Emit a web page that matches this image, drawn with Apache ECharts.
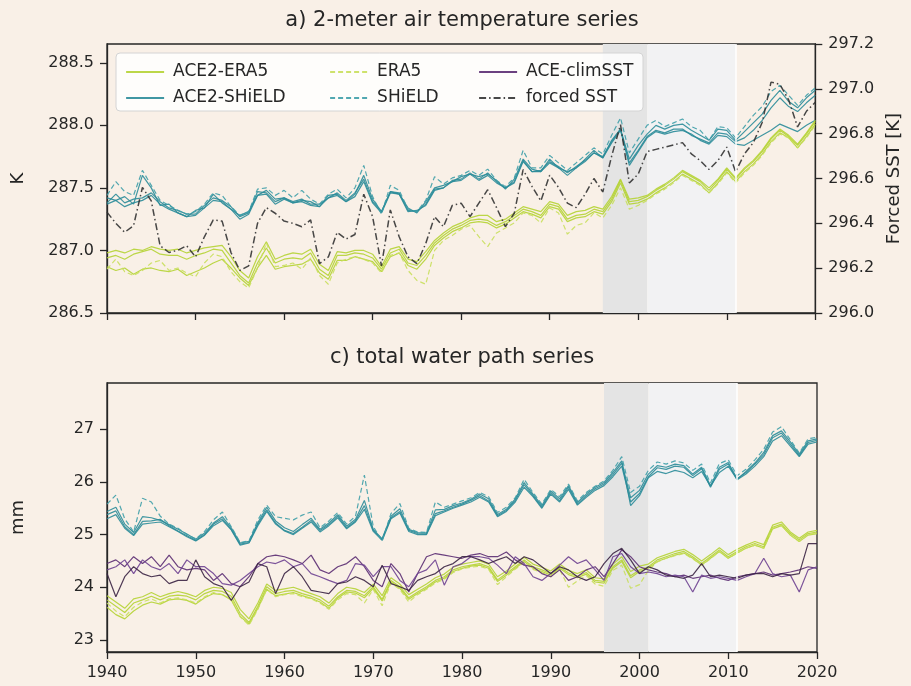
<!DOCTYPE html>
<html>
<head>
<meta charset="utf-8">
<title>ACE2 series</title>
<script src="https://cdn.jsdelivr.net/npm/echarts@6/dist/echarts.min.js"></script>
<style>
  html, body { margin: 0; padding: 0; background: #f9f0e7; }
  #main { width: 911px; height: 686px; }
</style>
</head>
<body>
<div id="main"></div>
<script>
// years 1940..2020 (x positions)
const years = [];
for (let y = 1940; y <= 2020; y++) years.push(y);

// a) 2-meter air temperature [K]
const forcedSST = [
  296.45,296.40,296.36,296.39,296.56,296.50,296.30,296.27,296.28,296.30,
  296.25,296.34,296.415,296.41,296.27,296.19,296.21,296.40,296.47,296.445,
  296.41,296.40,296.385,296.415,296.22,296.25,296.36,296.33,296.35,296.53,
  296.43,296.21,296.46,296.34,296.25,296.22,296.31,296.43,296.385,296.48,
  296.49,296.43,296.49,296.55,296.47,296.385,296.445,296.64,296.565,296.50,
  296.615,296.56,296.49,296.47,296.53,296.60,296.54,296.70,296.84,296.58,
  296.62,296.72,296.73,296.74,296.75,296.76,296.71,296.68,296.64,296.68,
  296.74,296.63,296.71,296.76,296.85,297.03,297.02,296.95,296.83,296.90,
  296.94];
const t2mShield = [
  287.44,287.55,287.47,287.44,287.64,287.52,287.40,287.36,287.32,287.29,
  287.31,287.37,287.46,287.44,287.35,287.28,287.31,287.49,287.50,287.44,
  287.48,287.42,287.48,287.41,287.37,287.45,287.49,287.42,287.50,287.68,
  287.43,287.29,287.52,287.48,287.33,287.31,287.40,287.59,287.53,287.58,
  287.60,287.64,287.60,287.65,287.56,287.51,287.58,287.80,287.66,287.66,
  287.76,287.70,287.64,287.70,287.76,287.82,287.77,287.92,288.06,287.78,
  287.89,288.00,288.04,287.99,288.02,288.05,287.99,287.96,287.88,287.99,
  287.98,287.90,287.99,288.08,288.15,288.27,288.32,288.24,288.16,288.24,
  288.30];
const t2mAceShield1 = [
  287.42,287.40,287.43,287.37,287.60,287.50,287.36,287.37,287.30,287.27,
  287.32,287.34,287.45,287.38,287.33,287.28,287.31,287.44,287.48,287.41,
  287.42,287.38,287.40,287.39,287.35,287.44,287.45,287.39,287.45,287.60,
  287.41,287.31,287.47,287.45,287.34,287.30,287.39,287.50,287.52,287.55,
  287.59,287.61,287.59,287.61,287.56,287.49,287.57,287.73,287.65,287.63,
  287.73,287.66,287.63,287.66,287.73,287.80,287.74,287.88,287.97,287.73,
  287.84,287.93,288.00,287.97,288.00,288.01,287.96,287.92,287.88,287.97,
  287.96,287.88,287.95,288.02,288.09,288.20,288.28,288.19,288.14,288.22,
  288.28];
const t2mAceShield2 = [
  287.37,287.40,287.35,287.38,287.40,287.44,287.37,287.33,287.30,287.27,
  287.28,287.34,287.40,287.39,287.33,287.25,287.29,287.44,287.45,287.37,
  287.41,287.38,287.39,287.36,287.35,287.42,287.44,287.39,287.43,287.55,
  287.38,287.30,287.46,287.45,287.31,287.32,287.36,287.48,287.50,287.55,
  287.56,287.61,287.56,287.60,287.54,287.50,287.54,287.71,287.63,287.63,
  287.70,287.66,287.60,287.66,287.71,287.78,287.74,287.86,287.96,287.70,
  287.80,287.91,287.96,287.94,287.97,287.97,287.92,287.89,287.86,287.94,
  287.93,287.87,287.90,287.96,288.04,288.14,288.22,288.15,288.11,288.18,
  288.24];
const t2mAceShield3 = [
  287.38,287.45,287.38,287.41,287.42,287.46,287.39,287.34,287.32,287.29,
  287.29,287.36,287.42,287.40,287.35,287.27,287.30,287.47,287.46,287.39,
  287.42,287.39,287.41,287.37,287.37,287.42,287.46,287.40,287.46,287.57,
  287.39,287.31,287.47,287.46,287.32,287.31,287.37,287.49,287.50,287.56,
  287.57,287.62,287.57,287.62,287.55,287.50,287.55,287.72,287.63,287.64,
  287.71,287.67,287.62,287.67,287.72,287.78,287.75,287.87,287.97,287.68,
  287.79,287.90,287.95,287.93,287.95,287.96,287.93,287.88,287.85,287.92,
  287.91,287.85,287.84,287.88,287.92,287.96,288.01,287.98,287.95,288.00,
  288.04];
const t2mEra5 = [
  286.85,286.93,286.83,286.80,286.84,286.90,286.92,286.84,286.86,286.82,
  286.79,286.90,286.97,286.95,286.83,286.75,286.70,286.86,287.06,286.87,
  286.88,286.90,286.85,286.94,286.80,286.73,286.90,286.93,286.95,286.93,
  286.90,286.82,286.96,286.98,286.84,286.76,286.73,287.00,287.08,287.12,
  287.17,287.20,287.11,287.03,287.14,287.18,287.22,287.30,287.28,287.22,
  287.34,287.30,287.13,287.20,287.22,287.30,287.26,287.36,287.50,287.33,
  287.36,287.40,287.45,287.49,287.54,287.60,287.56,287.52,287.46,287.53,
  287.62,287.54,287.62,287.68,287.76,287.86,287.93,287.90,287.82,287.90,
  288.00];
const t2mAceEra1 = [
  286.98,287.00,286.98,287.01,287.00,287.03,287.01,287.00,287.01,286.98,
  287.00,287.02,287.03,287.04,286.95,286.84,286.78,286.95,287.07,286.93,
  286.96,286.98,286.97,287.01,286.89,286.84,286.99,286.98,287.00,287.00,
  286.97,286.87,287.01,287.03,286.93,286.91,286.99,287.08,287.14,287.19,
  287.22,287.26,287.28,287.28,287.23,287.25,287.30,287.35,287.33,287.31,
  287.39,287.37,287.28,287.31,287.32,287.35,287.33,287.43,287.57,287.41,
  287.42,287.44,287.49,287.53,287.58,287.64,287.60,287.56,287.50,287.57,
  287.66,287.58,287.66,287.72,287.80,287.90,287.97,287.92,287.85,287.94,
  288.04];
const t2mAceEra2 = [
  286.94,286.96,286.93,286.97,286.99,287.01,286.97,286.96,286.96,286.93,
  286.96,286.98,287.01,287.00,286.90,286.80,286.74,286.90,287.02,286.90,
  286.93,286.94,286.93,286.98,286.85,286.80,286.96,286.96,286.98,286.97,
  286.94,286.85,286.98,287.01,286.90,286.88,286.96,287.06,287.12,287.17,
  287.20,287.24,287.25,287.24,287.20,287.23,287.28,287.33,287.31,287.28,
  287.37,287.35,287.25,287.28,287.29,287.33,287.31,287.41,287.56,287.39,
  287.40,287.43,287.48,287.52,287.57,287.63,287.59,287.55,287.48,287.56,
  287.65,287.57,287.65,287.71,287.79,287.89,287.96,287.91,287.84,287.93,
  288.03];
const t2mAceEra3 = [
  286.87,286.84,286.86,286.81,286.85,286.86,286.84,286.83,286.85,286.80,
  286.83,286.86,286.90,286.93,286.86,286.78,286.72,286.86,286.96,286.85,
  286.87,286.88,286.89,286.93,286.82,286.77,286.92,286.92,286.95,286.93,
  286.91,286.83,286.95,286.98,286.88,286.85,286.93,287.04,287.10,287.15,
  287.18,287.22,287.23,287.22,287.18,287.21,287.26,287.31,287.29,287.26,
  287.35,287.33,287.23,287.26,287.27,287.31,287.29,287.39,287.54,287.37,
  287.38,287.41,287.46,287.50,287.55,287.61,287.57,287.53,287.46,287.54,
  287.63,287.55,287.63,287.69,287.77,287.87,287.94,287.90,287.82,287.91,
  288.01];

// c) total water path [mm]
const twpShield = [
  25.58,25.75,25.30,25.05,25.69,25.62,25.35,25.20,25.12,25.00,
  24.92,25.06,25.28,25.43,25.15,24.85,24.88,25.28,25.56,25.34,
  25.31,25.28,25.37,25.43,25.13,25.26,25.42,25.20,25.35,26.13,
  25.15,24.88,25.40,25.59,25.12,25.05,25.04,25.62,25.52,25.58,
  25.64,25.70,25.80,25.72,25.42,25.52,25.70,26.05,25.80,25.58,
  25.86,25.72,25.96,25.64,25.80,25.92,26.02,26.22,26.48,25.80,
  25.92,26.22,26.38,26.34,26.40,26.36,26.22,26.34,25.98,26.35,
  26.42,26.12,26.24,26.42,26.62,26.95,27.05,26.80,26.55,26.82,
  26.85];
const twpAceShield1 = [
  25.38,25.45,25.15,25.00,25.25,25.26,25.29,25.17,25.07,24.98,
  24.89,25.00,25.20,25.30,25.10,24.82,24.85,25.20,25.47,25.22,
  25.08,25.02,25.14,25.27,25.08,25.19,25.35,25.13,25.26,25.55,
  25.08,24.91,25.32,25.44,25.08,25.02,25.01,25.40,25.45,25.52,
  25.58,25.65,25.74,25.64,25.36,25.46,25.65,25.95,25.74,25.52,
  25.80,25.64,25.90,25.58,25.74,25.87,25.96,26.14,26.36,25.70,
  25.84,26.15,26.31,26.28,26.34,26.31,26.15,26.28,25.93,26.28,
  26.37,26.06,26.18,26.34,26.52,26.84,26.93,26.72,26.50,26.75,
  26.79];
const twpAceShield2 = [
  25.30,25.38,25.12,24.98,25.20,25.22,25.24,25.15,25.06,24.96,
  24.88,24.99,25.17,25.27,25.09,24.80,24.84,25.17,25.44,25.20,
  25.07,25.00,25.12,25.24,25.05,25.17,25.32,25.11,25.24,25.48,
  25.06,24.89,25.30,25.41,25.06,25.00,25.00,25.36,25.43,25.50,
  25.56,25.62,25.71,25.62,25.34,25.44,25.62,25.90,25.72,25.50,
  25.77,25.62,25.86,25.56,25.71,25.84,25.93,26.10,26.30,25.62,
  25.78,26.10,26.27,26.24,26.30,26.28,26.12,26.25,25.90,26.24,
  26.34,26.04,26.15,26.30,26.48,26.78,26.88,26.68,26.48,26.72,
  26.76];
const twpAceShield3 = [
  25.44,25.52,25.20,25.04,25.34,25.32,25.27,25.19,25.10,25.01,
  24.91,25.03,25.22,25.34,25.13,24.84,24.87,25.23,25.52,25.26,
  25.13,25.06,25.19,25.31,25.10,25.22,25.38,25.16,25.29,25.65,
  25.10,24.92,25.35,25.49,25.10,25.04,25.03,25.47,25.48,25.55,
  25.60,25.67,25.77,25.68,25.38,25.48,25.68,25.99,25.77,25.55,
  25.83,25.68,25.93,25.61,25.77,25.90,25.99,26.18,26.40,25.55,
  25.74,26.08,26.20,26.16,26.22,26.18,26.08,26.20,25.92,26.18,
  26.30,26.05,26.20,26.36,26.56,26.88,26.97,26.76,26.53,26.78,
  26.82];
const twpEra5 = [
  23.70,23.55,23.44,23.62,23.72,23.78,23.70,23.78,23.80,23.76,
  23.70,23.82,23.90,23.86,23.78,23.44,23.28,23.58,23.96,23.82,
  23.86,23.88,23.82,23.78,23.70,23.58,23.76,23.88,23.86,23.70,
  23.96,23.65,24.08,23.96,23.72,23.86,23.96,24.08,24.15,24.28,
  24.35,24.38,24.40,24.34,24.05,24.20,24.34,24.48,24.34,24.28,
  24.20,24.34,24.00,24.12,24.22,24.06,24.02,24.32,24.42,23.98,
  24.05,24.32,24.48,24.55,24.60,24.64,24.54,24.42,24.54,24.68,
  24.55,24.65,24.74,24.80,24.74,25.12,25.18,24.99,24.87,25.00,
  25.03];
const twpAceEra1 = [
  23.84,23.72,23.60,23.78,23.82,23.90,23.82,23.88,23.92,23.88,
  23.82,23.94,24.00,23.98,23.90,23.58,23.40,23.70,24.06,23.94,
  23.97,24.00,23.94,23.88,23.82,23.70,23.88,24.00,23.97,23.90,
  24.06,23.84,24.18,24.06,23.86,23.96,24.06,24.18,24.25,24.38,
  24.44,24.47,24.50,24.44,24.20,24.31,24.44,24.57,24.44,24.38,
  24.31,24.44,24.32,24.26,24.33,24.18,24.16,24.44,24.58,24.30,
  24.40,24.44,24.56,24.62,24.68,24.72,24.62,24.50,24.62,24.75,
  24.62,24.72,24.80,24.87,24.81,25.18,25.24,25.05,24.93,25.05,
  25.08];
const twpAceEra2 = [
  23.76,23.64,23.52,23.70,23.76,23.83,23.76,23.83,23.85,23.83,
  23.76,23.88,23.94,23.92,23.83,23.50,23.33,23.64,24.01,23.88,
  23.92,23.94,23.88,23.83,23.76,23.64,23.82,23.94,23.92,23.84,
  24.01,23.77,24.13,24.01,23.80,23.91,24.01,24.13,24.20,24.33,
  24.39,24.42,24.45,24.39,24.14,24.26,24.39,24.52,24.39,24.33,
  24.26,24.39,24.27,24.21,24.28,24.13,24.11,24.39,24.52,24.22,
  24.33,24.39,24.52,24.58,24.64,24.68,24.58,24.45,24.58,24.71,
  24.58,24.68,24.77,24.83,24.77,25.14,25.20,25.02,24.90,25.02,
  25.05];
const twpAceEra3 = [
  23.62,23.48,23.40,23.55,23.66,23.72,23.68,23.76,23.78,23.75,
  23.68,23.80,23.88,23.86,23.76,23.45,23.30,23.60,23.96,23.84,
  23.87,23.90,23.84,23.79,23.72,23.60,23.79,23.91,23.89,23.80,
  23.98,23.74,24.10,23.98,23.77,23.88,23.98,24.10,24.17,24.30,
  24.36,24.40,24.42,24.36,24.11,24.23,24.36,24.49,24.36,24.30,
  24.23,24.36,24.24,24.18,24.25,24.10,24.08,24.36,24.49,24.18,
  24.30,24.36,24.49,24.55,24.61,24.65,24.55,24.42,24.55,24.68,
  24.55,24.65,24.74,24.80,24.74,25.11,25.17,24.99,24.87,24.99,
  25.02];
const twpClim1 = [
  24.45,24.52,24.39,24.58,24.45,24.58,24.39,24.61,24.39,24.33,
  24.36,24.33,24.13,24.26,24.07,24.01,24.20,24.45,24.58,24.61,
  24.58,24.52,24.45,24.61,24.33,24.26,24.39,24.45,24.58,24.39,
  24.13,24.01,24.45,24.26,23.91,24.26,24.58,24.64,24.61,24.58,
  24.55,24.61,24.64,24.58,24.58,24.67,24.52,24.42,24.39,24.26,
  24.20,24.33,24.13,24.20,24.33,24.39,24.20,24.45,24.71,24.58,
  24.39,24.33,24.29,24.26,24.20,24.23,24.17,24.20,24.23,24.17,
  24.13,24.20,24.23,24.26,24.29,24.23,24.26,24.29,24.33,24.39,
  24.36];
const twpClim2 = [
  24.33,24.39,24.52,24.26,24.52,24.39,24.33,24.45,24.26,24.52,
  24.39,24.39,24.26,24.07,24.04,24.13,24.26,24.39,24.48,24.45,
  24.52,24.39,24.45,24.26,24.20,24.13,24.07,24.13,24.45,24.42,
  24.20,24.39,24.39,24.13,24.01,24.26,24.33,24.52,24.04,24.39,
  24.45,24.58,24.58,24.55,24.42,24.26,24.58,24.45,24.20,24.13,
  24.26,24.42,24.58,24.45,24.52,24.33,24.13,24.58,24.64,24.39,
  24.26,24.29,24.26,24.20,24.23,24.20,23.91,24.23,24.17,24.20,
  24.17,24.13,24.20,24.26,24.55,24.26,24.20,24.23,23.91,24.33,
  24.39];
const twpClim3 = [
  24.26,23.82,24.20,24.39,24.26,24.20,24.23,24.07,24.13,24.13,
  24.52,24.20,24.07,24.01,23.75,24.01,24.10,24.45,24.39,23.88,
  24.26,24.39,24.20,23.94,23.91,23.88,24.07,24.10,24.20,24.13,
  24.01,24.42,24.07,24.01,23.94,24.13,24.20,24.26,24.39,24.45,
  24.58,24.58,24.52,24.45,24.52,24.58,24.45,24.58,24.52,24.39,
  24.26,24.39,24.33,24.20,24.13,24.20,24.45,24.64,24.74,24.52,
  24.26,24.39,24.33,24.23,24.20,24.17,24.23,24.45,24.20,24.23,
  24.20,24.17,24.23,24.26,24.26,24.20,24.26,24.23,24.26,24.83,
  24.83];

const tempTicks = [286.5, 287.0, 287.5, 288.0, 288.5];
const twpTicks = [23, 24, 25, 26, 27];
const shadeSpans = [[1996, 2001], [2001, 2011]];

const FONT = 'DejaVu Sans';
const INK = '#262626';
const GREEN = '#b5d334', GREEN_D = '#c9df5c';
const TEAL = '#2b8c99', TEAL_D = '#3e9ea8';
const PURPLES = ['#5b2c72', '#6e4191', '#3b2444'];
const DASH = [5, 3];
const DASHDOT = [7, 3, 1.5, 3];
const TICK = { inside: false, length: 7, lineStyle: { color: INK, width: 1.3 } };

function pts(arr) { return years.map((y, i) => [y, arr[i]]); }

function line(name, arr, color, type, xi, yi, w) {
  return {
    name: name, type: 'line', xAxisIndex: xi, yAxisIndex: yi,
    data: pts(arr), showSymbol: false, symbol: 'none', z: 3,
    lineStyle: { color: color, width: w || 1.2, type: type || 'solid', opacity: 0.9 },
    itemStyle: { color: color }
  };
}

function shade(xi, yi, arr) {
  return {
    type: 'line', xAxisIndex: xi, yAxisIndex: yi, data: pts(arr), silent: true,
    symbol: 'none', lineStyle: { opacity: 0 }, z: 1,
    markArea: {
      silent: true,
      data: [
        [{ xAxis: shadeSpans[0][0], itemStyle: { color: '#e4e4e4', opacity: 1 } }, { xAxis: shadeSpans[0][1] }],
        [{ xAxis: shadeSpans[1][0], itemStyle: { color: '#f2f2f3', opacity: 1 } }, { xAxis: shadeSpans[1][1] }]
      ]
    },
    markLine: {
      silent: true, symbol: 'none', label: { show: false },
      lineStyle: { color: '#ffffff', width: 1.5, type: 'solid' },
      data: [{ xAxis: shadeSpans[1][1] }]
    }
  };
}

function xAxis(gi, labels) {
  return {
    type: 'value', gridIndex: gi, min: 1940, max: 2020, interval: 10,
    axisLine: { lineStyle: { color: INK, width: 1.3 } },
    axisTick: TICK,
    axisLabel: { show: labels, color: INK, fontSize: 16, fontFamily: FONT, margin: 13, formatter: v => String(v) },
    splitLine: { show: false }
  };
}

function yAxis(gi, opts) {
  const base = {
    type: 'value', gridIndex: gi,
    axisLine: { show: true, lineStyle: { color: INK, width: 1.3 } },
    axisTick: Object.assign({ show: true }, TICK),
    axisLabel: { color: INK, fontSize: 16, fontFamily: FONT, margin: 13 },
    splitLine: { show: false },
    nameLocation: 'middle', nameRotate: 90,
    nameTextStyle: { color: INK, fontSize: 18, fontFamily: FONT }
  };
  return Object.assign(base, opts);
}

const legendText = { color: INK, fontSize: 17, fontFamily: FONT, padding: [0, 0, 0, 4], lineHeight: 20 };
function legend(names, left) {
  return {
    data: names, orient: 'vertical', left: left, top: 57, itemWidth: 38, itemHeight: 12,
    itemGap: 6, textStyle: legendText, selectedMode: false, z: 10,
    itemStyle: { opacity: 0 }, lineStyle: { width: 2.2 }
  };
}

const chart = echarts.init(document.getElementById('main'), null, { renderer: 'canvas' });
chart.setOption({
  animation: false,
  backgroundColor: '#f9f0e7',
  textStyle: { fontFamily: FONT },
  grid: [
    { left: 107, right: 94, top: 44, height: 269, show: true, borderColor: INK, borderWidth: 1.3, backgroundColor: 'transparent' },
    { left: 107, right: 94, top: 383, height: 269, show: true, borderColor: INK, borderWidth: 1.3, backgroundColor: 'transparent' }
  ],
  graphic: [
    { type: 'text', x: 462, y: 21, style: { text: 'a) 2-meter air temperature series', font: '21px "DejaVu Sans"', fill: INK, align: 'center', verticalAlign: 'middle' } },
    { type: 'text', x: 462, y: 358, style: { text: 'c) total water path series', font: '21px "DejaVu Sans"', fill: INK, align: 'center', verticalAlign: 'middle' } },
    { type: 'rect', z: 5, shape: { x: 116, y: 53, width: 527, height: 58, r: 4 },
      style: { fill: 'rgba(255,255,255,0.82)', stroke: '#d4d4d4', lineWidth: 1 } }
  ],
  legend: [
    legend(['ACE2-ERA5', 'ACE2-SHiELD'], 120),
    legend(['ERA5', 'SHiELD'], 324),
    legend(['ACE-climSST', 'forced SST'], 473)
  ],
  xAxis: [xAxis(0, false), xAxis(1, true)],
  yAxis: [
    yAxis(0, { name: 'K', nameGap: 80, min: 286.5, max: 288.65,
      axisTick: Object.assign({ show: true, customValues: tempTicks }, TICK),
      axisLabel: { color: INK, fontSize: 16, fontFamily: FONT, margin: 13, customValues: tempTicks, formatter: v => v.toFixed(1) } }),
    yAxis(0, { name: 'Forced SST [K]', nameGap: 66, position: 'right', min: 296.0, max: 297.2, interval: 0.2,
      axisLabel: { color: INK, fontSize: 16, fontFamily: FONT, margin: 13, formatter: v => v.toFixed(1) } }),
    yAxis(1, { name: 'mm', nameGap: 80, min: 22.77, max: 27.88,
      axisTick: Object.assign({ show: true, customValues: twpTicks }, TICK),
      axisLabel: { color: INK, fontSize: 16, fontFamily: FONT, margin: 13, customValues: twpTicks } })
  ],
  series: [
    shade(0, 0, t2mAceEra2),
    shade(1, 2, twpAceEra2),
    // top panel
    line('ACE2-SHiELD', t2mAceShield1, TEAL, 'solid', 0, 0),
    line('ACE2-SHiELD', t2mAceShield2, TEAL, 'solid', 0, 0),
    line('ACE2-SHiELD', t2mAceShield3, TEAL, 'solid', 0, 0),
    line('SHiELD', t2mShield, TEAL_D, DASH, 0, 0),
    line('ACE2-ERA5', t2mAceEra1, GREEN, 'solid', 0, 0),
    line('ACE2-ERA5', t2mAceEra2, GREEN, 'solid', 0, 0),
    line('ACE2-ERA5', t2mAceEra3, GREEN, 'solid', 0, 0),
    line('ERA5', t2mEra5, GREEN_D, DASH, 0, 0),
    line('forced SST', forcedSST, '#333333', DASHDOT, 0, 1, 1.5),
    // bottom panel
    line('ACE2-SHiELD', twpAceShield1, TEAL, 'solid', 1, 2),
    line('ACE2-SHiELD', twpAceShield2, TEAL, 'solid', 1, 2),
    line('ACE2-SHiELD', twpAceShield3, TEAL, 'solid', 1, 2),
    line('SHiELD', twpShield, TEAL_D, DASH, 1, 2),
    line('ACE2-ERA5', twpAceEra1, GREEN, 'solid', 1, 2),
    line('ACE2-ERA5', twpAceEra2, GREEN, 'solid', 1, 2),
    line('ACE2-ERA5', twpAceEra3, GREEN, 'solid', 1, 2),
    line('ERA5', twpEra5, GREEN_D, DASH, 1, 2),
    line('ACE-climSST', twpClim1, PURPLES[0], 'solid', 1, 2),
    line('ACE-climSST', twpClim2, PURPLES[1], 'solid', 1, 2),
    line('ACE-climSST', twpClim3, PURPLES[2], 'solid', 1, 2)
  ]
});
</script>
</body>
</html>
